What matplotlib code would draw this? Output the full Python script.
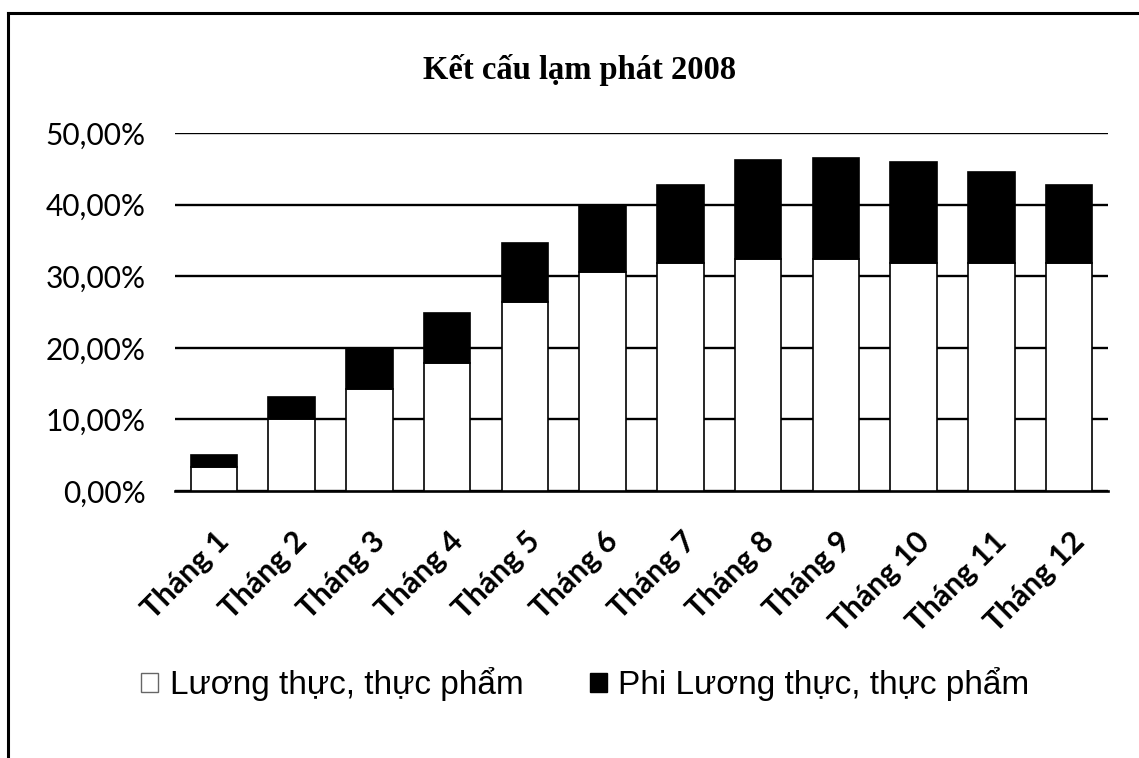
import numpy as np
import matplotlib
matplotlib.use("Agg")
from matplotlib import pyplot as plt
from matplotlib.lines import Line2D
from matplotlib.patches import Patch
from matplotlib.ticker import FuncFormatter
from matplotlib.transforms import ScaledTranslation

# Data (share of CPI change, %)
months = ['Tháng 1', 'Tháng 2', 'Tháng 3', 'Tháng 4', 'Tháng 5', 'Tháng 6',
          'Tháng 7', 'Tháng 8', 'Tháng 9', 'Tháng 10', 'Tháng 11', 'Tháng 12']
luong_thuc = [3.4, 10.0, 14.3, 17.9, 26.4, 30.6, 31.9, 32.4, 32.4, 31.9, 31.9, 31.8]
tong = [5.1, 13.2, 19.9, 24.9, 34.7, 39.9, 42.7, 46.3, 46.5, 46.0, 44.5, 42.7]
phi_luong_thuc = [t - l for t, l in zip(tong, luong_thuc)]

label_a = 'Lương thực, thực phẩm'
label_b = 'Phi Lương thực, thực phẩm'

fig = plt.figure(figsize=(11.39, 7.58), dpi=100)
ax = fig.add_axes([0.1536, 0.3522, 0.8192, 0.4723])

x = np.arange(len(months))
ax.bar(x, luong_thuc, width=0.6, color='white', edgecolor='black', linewidth=1.2, zorder=3)
ax.bar(x, phi_luong_thuc, width=0.6, bottom=luong_thuc, color='black',
       edgecolor='black', linewidth=1.2, zorder=3)

ax.set_ylim(0, 50)
ax.set_xlim(-0.5, len(months) - 0.5)
ax.set_yticks(np.arange(0, 51, 10))
ax.yaxis.set_major_formatter(FuncFormatter(lambda v, p: f'{v:.2f}%'.replace('.', ',')))
ax.grid(axis='y', color='black', linewidth=1.7, zorder=1)
ax.set_axisbelow(True)
for s in ['top', 'right', 'left']:
    ax.spines[s].set_visible(False)
ax.spines['bottom'].set_linewidth(1.9)
ax.tick_params(axis='y', length=0, pad=21, labelsize=21.5)
ax.tick_params(axis='x', length=0, pad=33)
ax.set_xticks(x)
ax.set_xticklabels(months, rotation=45, ha='right', va='center',
                   rotation_mode='anchor', fontsize=22, fontweight='bold')
shift = ScaledTranslation(11 / 100, 0, fig.dpi_scale_trans)
for t in ax.get_xticklabels():
    t.set_transform(t.get_transform() + shift)
for t in ax.get_yticklabels() + ax.get_xticklabels():
    t.set_fontfamily('Lato')

fig.text(0.509, 0.9077, 'Kết cấu lạm phát 2008', ha='center', va='center',
         fontsize=23.5, fontweight='bold', family='Liberation Serif')

handles = [Patch(facecolor='white', edgecolor='#666666', linewidth=1.0, label=label_a),
           Patch(facecolor='black', edgecolor='black', label=label_b)]
fig.legend(handles=handles, loc='center', bbox_to_anchor=(0.514, 0.097), ncol=2,
           frameon=False, handlelength=0.5, handleheight=0.5,
           handletextpad=0.35, columnspacing=2.0,
           prop={'family': 'Liberation Sans', 'size': 24})

# outer frame of the scanned chart (top and left edge visible)
fig.add_artist(Line2D([8 / 1139, 1.0], [1 - 13 / 758, 1 - 13 / 758],
                      transform=fig.transFigure, color='black', linewidth=2.2))
fig.add_artist(Line2D([8 / 1139, 8 / 1139], [0.0, 1 - 13 / 758],
                      transform=fig.transFigure, color='black', linewidth=2.2))

fig.savefig('out.png', dpi=100)
